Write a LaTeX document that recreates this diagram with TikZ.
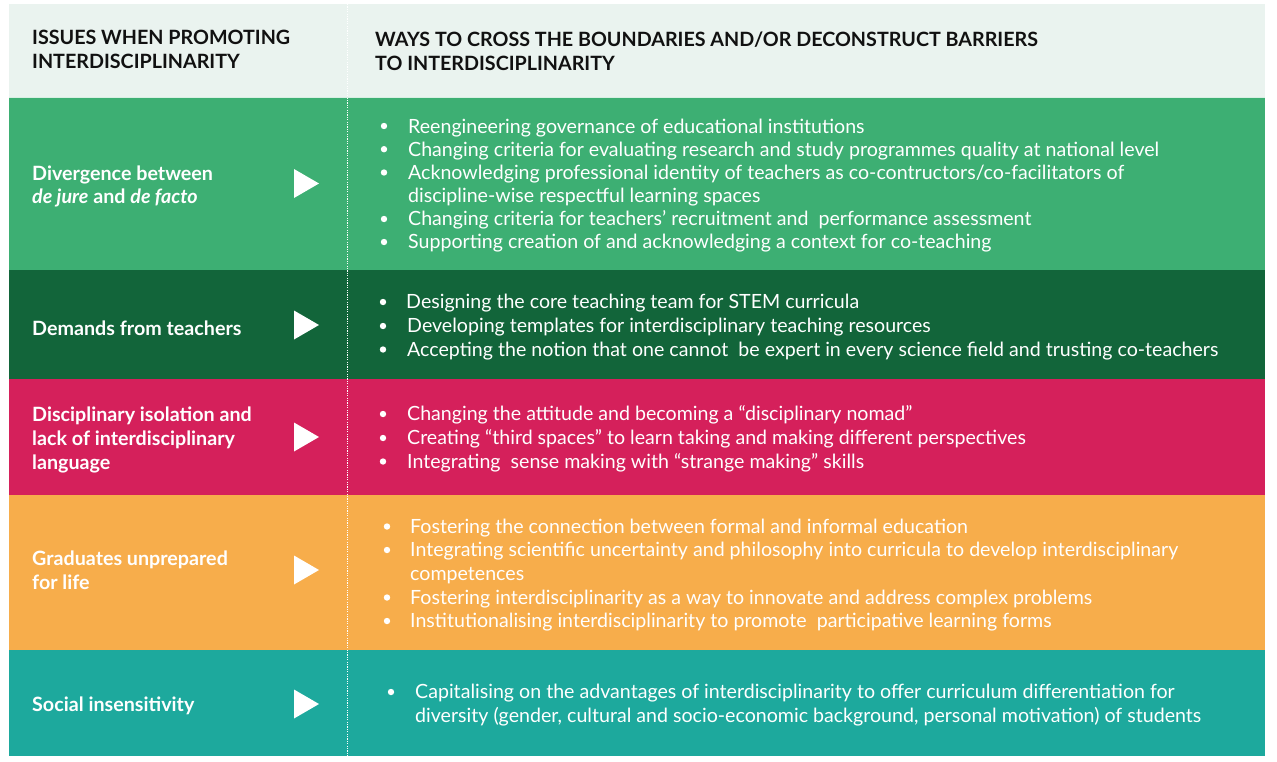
\documentclass[tikz,border=0pt]{standalone}
\usepackage{fontspec}
\setmainfont{Lato}
\definecolor{hdrbg}{HTML}{EAF3EF}
\definecolor{rowA}{HTML}{3DAF73}
\definecolor{rowB}{HTML}{12653A}
\definecolor{rowC}{HTML}{D5205B}
\definecolor{rowD}{HTML}{F7AD4B}
\definecolor{rowE}{HTML}{1DA99D}
\definecolor{hdrtext}{HTML}{111111}
\tikzset{
  hdr/.style={anchor=base west, inner sep=0pt, text=hdrtext, font=\fontsize{19.7}{23}\selectfont\bfseries},
  lab/.style={anchor=base west, inner sep=0pt, text=white, font=\fontsize{19.7}{23}\selectfont\bfseries},
  itm/.style={anchor=base west, inner sep=0pt, text=white, font=\fontsize{19.6}{23}\selectfont},
  dot/.style={circle, fill=white, inner sep=0pt, minimum size=6.4pt},
  tri/.style={fill=white},
  divider/.style={white, line width=0.9pt, dash pattern=on 1.2pt off 1.2pt}
}
\begin{document}
\begin{tikzpicture}[x=1pt,y=-1pt]
\useasboundingbox (0,0) rectangle (1277,761);
\fill[white] (0,0) rectangle (1277,761);
% bands
\fill[hdrbg] (9,4) rectangle (1265,97);
\fill[rowA] (9,97) rectangle (1265,270);
\fill[rowB] (9,270) rectangle (1265,379);
\fill[rowC] (9,379) rectangle (1265,495);
\fill[rowD] (9,495) rectangle (1265,650);
\fill[rowE] (9,650) rectangle (1265,755.5);
\draw[white!80!rowA, line width=0.8pt] (9,97) -- (1265,97);
% divider
\coordinate (dtop) at (347,4);
\coordinate (dbot) at (347,755.5);
\draw[divider] (dtop) -- (dbot);
% header
\node[hdr] (h1) at (32,44.5) {ISSUES WHEN PROMOTING};
\node[hdr] (h2) at (32,68.5) {INTERDISCIPLINARITY};
\node[hdr] (h3) at (375,46.5) {WAYS TO CROSS THE BOUNDARIES AND/OR DECONSTRUCT BARRIERS};
\node[hdr] (h4) at (375,70.5) {TO INTERDISCIPLINARITY};
% triangles
\foreach \n/\y in {t1/183.5,t2/325,t3/437,t4/570,t5/704}{
  \fill[tri] (294,\y-14.5) -- (319,\y) -- (294,\y+14.5) -- cycle;
}
% left labels
\node[lab] (l1a) at (32,180) {Divergence between};
\node[lab] (l1b) at (32,203.5) {\textit{de jure} and \textit{de facto}};
\node[lab] (l2) at (32,335) {Demands from teachers};
\node[lab] (l3a) at (32,421) {Disciplinary isolation and};
\node[lab] (l3b) at (32,445) {lack of interdisciplinary};
\node[lab] (l3c) at (32,469) {language};
\node[lab] (l4a) at (32,565) {Graduates unprepared};
\node[lab] (l4b) at (32,589) {for life};
\node[lab] (l5) at (32,711) {Social insensitivity};
% row 1
\foreach \y in {126,149.2,172.5,219,242}{\node[dot] at (384,\y) {};}
\node[itm] (a1) at (408,133) {Reengineering governance of educational institutions};
\node[itm] (a2) at (408,156.3) {Changing criteria for evaluating research and study programmes quality at national level};
\node[itm] (a3) at (408,179.3) {Acknowledging professional identity of teachers as co-contructors/co-facilitators of};
\node[itm] (a4) at (408,202.3) {discipline-wise respectful learning spaces};
\node[itm] (a5) at (408,225.3) {Changing criteria for teachers’ recruitment and\ \ performance assessment};
\node[itm] (a6) at (408,248.6) {Supporting creation of and acknowledging a context for co-teaching};
% row 2
\foreach \y in {302,326,349.5}{\node[dot] at (383,\y) {};}
\node[itm] (b1) at (406,308.8) {Designing the core teaching team for STEM curricula};
\node[itm] (b2) at (407,332.6) {Developing templates for interdisciplinary teaching resources};
\node[itm] (b3) at (407,356.3) {Accepting the notion that one cannot\ \ be expert in every science field and trusting co-teachers};
% row 3
\foreach \y in {414,438,461.5}{\node[dot] at (383,\y) {};}
\node[itm] (c1) at (407,420.8) {Changing the attitude and becoming a “disciplinary nomad”};
\node[itm] (c2) at (407,444.6) {Creating “third spaces” to learn taking and making different perspectives};
\node[itm] (c3) at (407,468.3) {Integrating\ \ sense making with “strange making” skills};
% row 4
\foreach \y in {526.5,550,597.5,621}{\node[dot] at (387,\y) {};}
\node[itm] (d1) at (410,533.3) {Fostering the connection between formal and informal education};
\node[itm] (d2) at (410,556.8) {Integrating scientific uncertainty and philosophy into curricula to develop interdisciplinary};
\node[itm] (d3) at (410,580.3) {competences};
\node[itm] (d4) at (410,604.3) {Fostering interdisciplinarity as a way to innovate and address complex problems};
\node[itm] (d5) at (410,627.8) {Institutionalising interdisciplinarity to promote\ \ participative learning forms};
% row 5
\node[dot] at (391,692) {};
\node[itm] (e1) at (415,698.8) {Capitalising on the advantages of interdisciplinarity to offer curriculum differentiation for};
\node[itm] (e2) at (415,722.3) {diversity (gender, cultural and socio-economic background, personal motivation) of students};
\end{tikzpicture}
\end{document}
